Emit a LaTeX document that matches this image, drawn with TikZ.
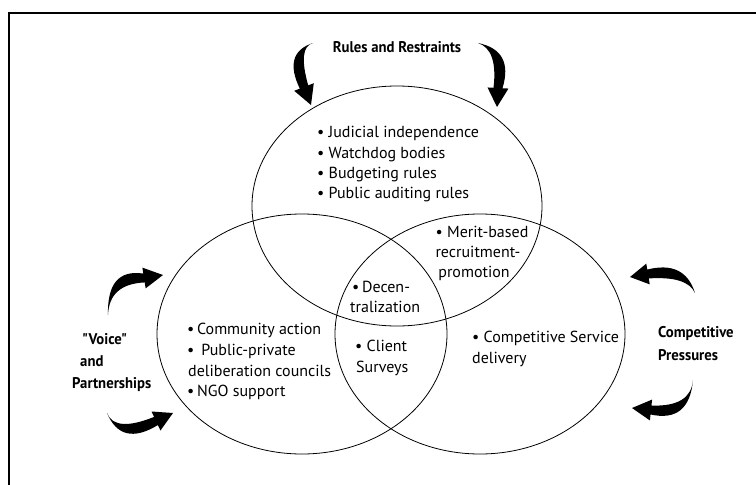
\documentclass[tikz,border=0pt]{standalone}
\usepackage{fontspec}
\setmainfont{PT Sans}
\newfontfamily\labfont[FakeStretch=0.95]{PT Sans}
\usetikzlibrary{calc,shapes.geometric}
\newcommand\fatarrow[4]{%
  \coordinate (faT) at #1; \coordinate (faC) at #2;
  \coordinate (faB) at #3; \coordinate (faP) at #4;
  \coordinate (faB1) at ($(faB)!4.5pt!90:(faP)$);
  \coordinate (faB2) at ($(faB)!4.5pt!-90:(faP)$);
  \coordinate (faN1) at ($(faB)!8pt!90:(faP)$);
  \coordinate (faN2) at ($(faB)!8pt!-90:(faP)$);
  \coordinate (faH1) at ($(faB)!10.5pt!90:(faP)$);
  \coordinate (faH2) at ($(faB)!10.5pt!-90:(faP)$);
  \coordinate (faCa) at ($(faC)+(faN1)-(faB)$);
  \coordinate (faCb) at ($(faC)+(faN2)-(faB)$);
  \fill (faT) .. controls ($(faT)!0.667!(faCa)$) and ($(faB1)!0.667!(faCa)$) .. (faB1)
    -- (faH1) -- (faP) -- (faH2) -- (faB2)
    .. controls ($(faB2)!0.667!(faCb)$) and ($(faT)!0.667!(faCb)$) .. (faT) -- cycle;
}
\begin{document}
\begin{tikzpicture}[x=1pt,y=-1pt,
  venn/.style={draw, ellipse, line width=0.8pt, inner sep=0pt,
    minimum width=290pt, minimum height=240pt},
  txt/.style={anchor=base west, inner sep=0pt, font=\fontsize{16}{18}\selectfont},
  txtc/.style={anchor=base, inner sep=0pt, font=\fontsize{16}{18}\selectfont},
  lab/.style={anchor=base west, inner sep=0pt, font=\labfont\bfseries\fontsize{15.5}{18}\selectfont},
  frame/.style={line width=1.2pt}]
\useasboundingbox (0,0) rectangle (756,485);
% frame
\coordinate (fTL) at (9,13);
\coordinate (fTR) at (756,13);
\coordinate (fBL) at (9,485);
\draw[frame] (fTR) -- (fTL) -- (fBL);
% circles
\node[venn] (top) at (397,206) {};
\node[venn] (left) at (302,334) {};
\node[venn] (right) at (480,334) {};
% labels
\node[lab, anchor=base] (rules) at (397,52) {Rules and Restraints};
\node[lab] (v1) at (82,344) {"Voice"};
\node[lab] (v2) at (80,366) {and};
\node[lab] (v3) at (72,388) {Partnerships};
\node[lab] (cp1) at (658,337) {Competitive};
\node[lab] (cp2) at (658,360) {Pressures};
% top circle text
\node[txt] (t1) at (317,137) {• Judicial independence};
\node[txt] (t2) at (317,158) {• Watchdog bodies};
\node[txt] (t3) at (317,178) {• Budgeting rules};
\node[txt] (t4) at (317,198) {• Public auditing rules};
% merit
\node[txtc] (m1) at (482,237) {• Merit-based};
\node[txtc] (m2) at (478,257) {recruitment-};
\node[txtc] (m3) at (474,277) {promotion};
% decentralization
\node[txt] (d1) at (352,292) {•\,Decen-};
\node[txt] (d2) at (350,312) {tralization};
% left circle text
\node[txt] (l1) at (187,334) {•\,Community action};
\node[txt] (l2) at (187,355) {•\, Public-private};
\node[txt] (l3) at (188,376) {deliberation councils};
\node[txt] (l4) at (187,396) {•\,NGO support};
% client
\node[txt] (c1) at (355,351) {• Client};
\node[txt] (c2) at (356,372) {Surveys};
% right
\node[txt] (r1) at (472,342) {• Competitive Service};
\node[txt] (r2) at (472,363) {delivery};
% arrows
\fatarrow{(313,43)}{(290,50)}{(304,87)}{(311,105)}
\fatarrow{(478,43)}{(506,50)}{(498,88)}{(497,107)}
\fatarrow{(108,315)}{(108,276)}{(144,278)}{(163,275)}
\fatarrow{(107,413)}{(118,440)}{(156,421)}{(173,413)}
\fatarrow{(695,293)}{(686,268)}{(648,274)}{(630,277)}
\fatarrow{(693,380)}{(690,415)}{(651,410)}{(632,408)}
\end{tikzpicture}
\end{document}
